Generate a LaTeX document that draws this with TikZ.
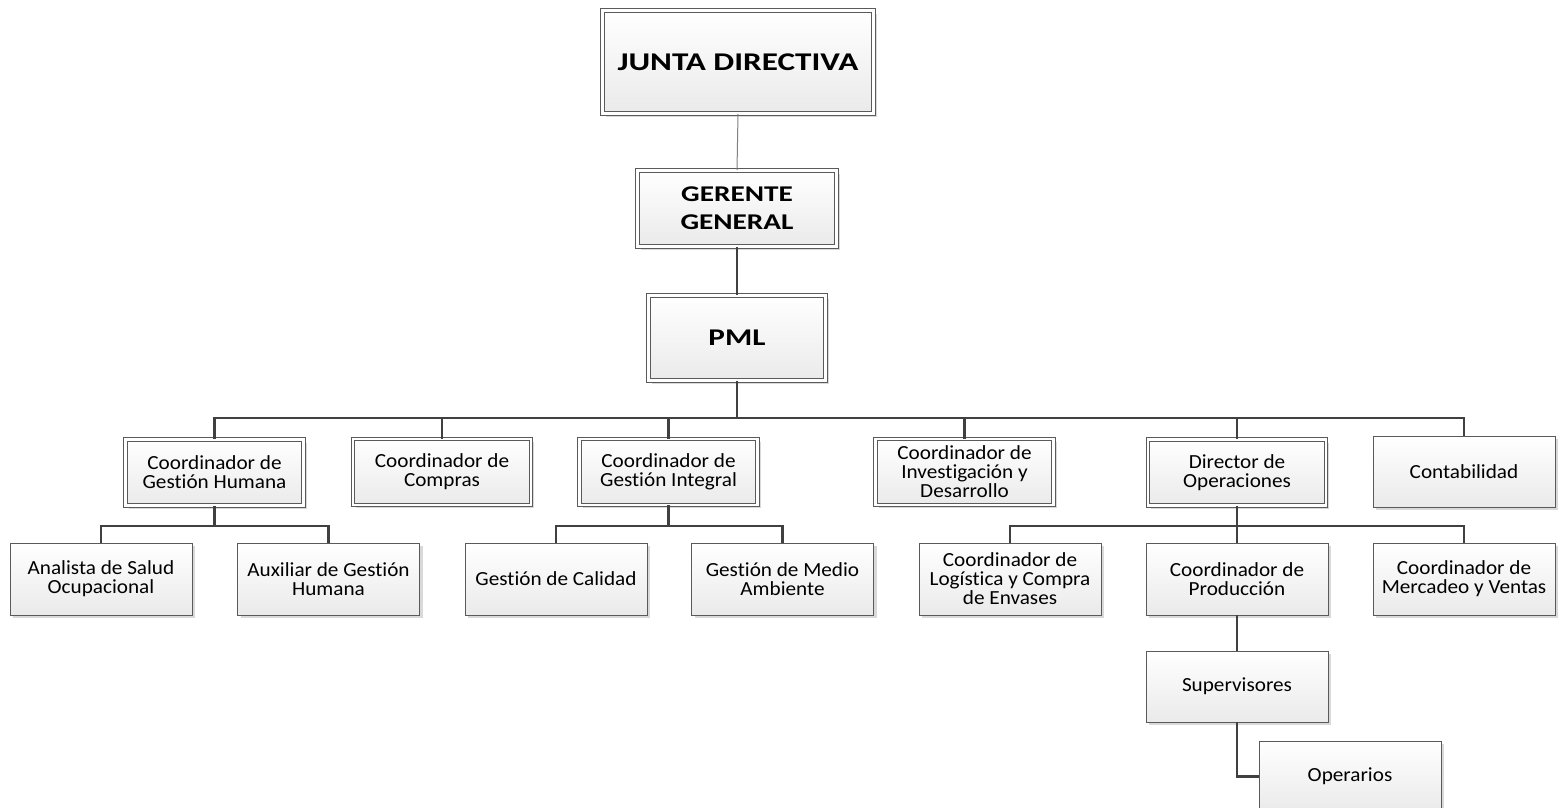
\documentclass[tikz,border=0pt]{standalone}
\usepackage{fontspec}
\setmainfont{Carlito}[Ligatures=NoCommon]
\newfontfamily\regwide[FakeStretch=1.06, Ligatures=NoCommon]{Carlito}
\newfontfamily\boldwide[FakeStretch=1.3, Ligatures=NoCommon]{Carlito}
\usetikzlibrary{shadows}
\definecolor{edge}{HTML}{404040}
\definecolor{bord}{HTML}{5A5A5A}
\definecolor{boxbot}{HTML}{EAEAEA}
\tikzset{
  base/.style={draw=bord, line width=0.8pt, top color=white, bottom color=boxbot,
    align=center, inner sep=2pt, font=\regwide\fontsize{20}{19}\selectfont,
    drop shadow={shadow xshift=3pt, shadow yshift=-3pt, fill=black!15, opacity=1}},
  sbox/.style={base, minimum width=182pt, minimum height=72pt},
  dbox/.style={base, double=white, double distance=2.6pt, minimum width=178pt, minimum height=66pt},
  link/.style={draw=edge, line width=2.6pt},
  thinlink/.style={draw=gray, line width=1pt},
}
\begin{document}
\begin{tikzpicture}[x=1pt, y=-1pt]
\useasboundingbox (0,0) rectangle (1558,807);
\clip (0,0) rectangle (1558,807);

\coordinate (bus1) at (737,418);
\coordinate (bgh) at (214.5,526);
\coordinate (bgi) at (668.5,526);
\coordinate (bdo) at (1237,526);

% nodes
\node[dbox, minimum width=271pt, minimum height=103pt, font=\boldwide\bfseries\fontsize{25.5}{28}\selectfont] (junta) at (738,62) {JUNTA DIRECTIVA};
\node[dbox, minimum width=199pt, minimum height=76pt, font=\boldwide\bfseries\fontsize{22.5}{28}\selectfont] (gerente) at (737,208.5) {GERENTE\\GENERAL};
\node[dbox, minimum width=177pt, minimum height=85pt, font=\boldwide\bfseries\fontsize{24}{26}\selectfont] (pml) at (737,338) {PML};

\node[dbox] (gh) at (214.5,472.5) {Coordinador de\\Gestión Humana};
\node[dbox] (comp) at (442,472) {Coordinador de\\Compras};
\node[dbox] (gi) at (668.5,472) {Coordinador de\\Gestión Integral};
\node[dbox] (id) at (964.5,472) {Coordinador de\\Investigación y\\Desarrollo};
\node[dbox] (dop) at (1237,472.5) {Director de\\Operaciones};
\node[sbox, minimum height=71pt] (cont) at (1464,471.5) {Contabilidad};

\node[sbox] (ana) at (101,579) {Analista de Salud\\Ocupacional};
\node[sbox] (aux) at (328.5,579) {Auxiliar de Gestión\\Humana};
\node[sbox] (cal) at (556,579) {Gestión de Calidad};
\node[sbox] (med) at (782.5,579) {Gestión de Medio\\Ambiente};
\node[sbox] (log) at (1010,579) {Coordinador de\\Logística y Compra\\de Envases};
\node[sbox] (prod) at (1237,579) {Coordinador de\\Producción};
\node[sbox] (merc) at (1464,579) {Coordinador de\\Mercadeo y Ventas};

\node[sbox, minimum height=71pt] (sup) at (1237,686.5) {Supervisores};
\node[sbox, minimum height=71pt] (oper) at (1350,776.5) {Operarios};

% connectors
\draw[thinlink] (junta.south) -- (gerente.north);
\draw[link] (gerente.south) -- (pml.north);
\draw[link] (pml.south) -- (bus1) -| (gh.north);
\draw[link] (bus1) -| (comp.north);
\draw[link] (bus1) -| (gi.north);
\draw[link] (bus1) -| (id.north);
\draw[link] (bus1) -| (dop.north);
\draw[link] (bus1) -| (cont.north);

\draw[link] (gh.south) -- (bgh) -| (ana.north);
\draw[link] (bgh) -| (aux.north);
\draw[link] (gi.south) -- (bgi) -| (cal.north);
\draw[link] (bgi) -| (med.north);
\draw[link] (dop.south) -- (bdo) -| (log.north);
\draw[link] (bdo) -- (prod.north);
\draw[link] (bdo) -| (merc.north);

\draw[link] (prod.south) -- (sup.north);
\draw[link] (sup.south) |- (oper.west);
\end{tikzpicture}
\end{document}
